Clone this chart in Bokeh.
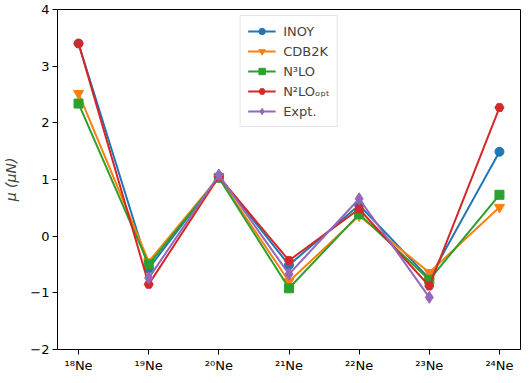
from bokeh.plotting import figure
from bokeh.models import Range1d, FixedTicker, Legend, LegendItem
from bokeh.embed import file_html
from bokeh.resources import INLINE

nuclei = ["¹⁸Ne", "¹⁹Ne", "²⁰Ne", "²¹Ne", "²²Ne", "²³Ne", "²⁴Ne"]
inoy = [3.40, -0.57, 1.05, -0.51, 0.55, -0.75, 1.49]
cdb2k = [2.52, -0.45, 1.04, -0.80, 0.36, -0.64, 0.51]
n3lo = [2.34, -0.50, 1.03, -0.92, 0.39, -0.77, 0.73]
n2lo_opt = [3.40, -0.85, 1.05, -0.43, 0.48, -0.88, 2.27]
expt_idx = [1, 2, 3, 4, 5]
expt = [-0.74, 1.08, -0.67, 0.66, -1.08]
y_ticks = [-2, -1, 0, 1, 2, 3, 4]

FONT = "DejaVu Sans"
p = figure(width=521, height=375, output_backend="svg", toolbar_location=None,
           x_range=Range1d(-0.3, 6.3), y_range=Range1d(-2, 4),
           min_border_left=53, min_border_right=1, min_border_top=9, min_border_bottom=22)
p.xgrid.visible = False
p.ygrid.visible = False
p.outline_line_color = "black"
p.outline_line_width = 1
p.background_fill_color = "white"
p.border_fill_color = "white"

x = list(range(len(nuclei)))
series = [
    ("INOY", x, inoy, "#1f77b4", "circle", 9),
    ("CDB2K", x, cdb2k, "#ff7f0e", "inverted_triangle", 10),
    ("N³LO", x, n3lo, "#2ca02c", "square", 9),
    ("N²LOₒₚₜ", x, n2lo_opt, "#d62728", "hex", 9),
    ("Expt.", expt_idx, expt, "#9467bd", "diamond", 12),
]
items = []
for name, xs, ys, col, mk, sz in series:
    l = p.line(xs, ys, line_color=col, line_width=2)
    m = p.scatter(xs, ys, marker=mk, size=sz, fill_color=col, line_color=col)
    items.append(LegendItem(label=name, renderers=[l, m]))

leg = Legend(items=items, location="top_center", margin=6,
             label_text_font=FONT, label_text_font_size="13px",
             glyph_width=28, glyph_height=16, spacing=4, padding=7,
             label_standoff=8, border_line_color="#cccccc", border_line_width=1,
             background_fill_alpha=0.8)
p.add_layout(leg, "center")

for ax in (p.xaxis[0], p.yaxis[0]):
    ax.major_label_text_font = FONT
    ax.major_label_text_font_size = "13px"
    ax.major_label_text_color = "black"
    ax.axis_line_color = "black"
    ax.major_tick_line_color = "black"
    ax.major_tick_out = 5
    ax.major_tick_in = 0
    ax.minor_tick_out = 0
    ax.minor_tick_in = 0
    ax.major_label_standoff = 3

p.xaxis.ticker = FixedTicker(ticks=x)
p.xaxis.major_label_overrides = {i: n for i, n in enumerate(nuclei)}
p.yaxis.ticker = FixedTicker(ticks=y_ticks)
p.yaxis.major_label_overrides = {t: (("−" + str(-t)) if t < 0 else str(t)) for t in y_ticks}
p.yaxis.axis_label = "μ (μN)"
p.yaxis.axis_label_text_font = FONT
p.yaxis.axis_label_text_font_size = "14px"
p.yaxis.axis_label_text_font_style = "italic"
p.yaxis.axis_label_standoff = 8

open("out.html", "w").write(file_html(p, INLINE))
